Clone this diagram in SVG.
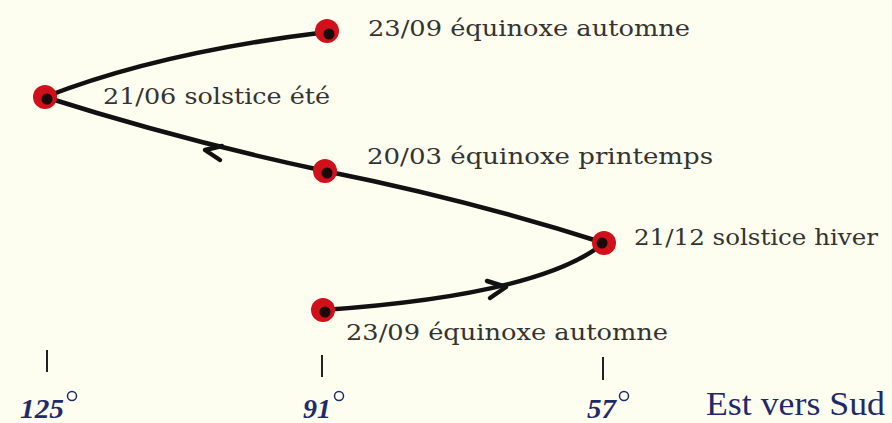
<svg xmlns="http://www.w3.org/2000/svg" width="892" height="423" viewBox="0 0 892 423">
<style>
.lbl{font-family:"DejaVu Serif",Georgia,serif;font-size:23px;fill:#333}
.deg{font-family:"Liberation Serif",serif;font-size:28px;font-style:italic;font-weight:bold;fill:#1f2a6b}
.sup{fill:none;stroke:#1f2a6b;stroke-width:1.5}
.path{fill:none;stroke:#111;stroke-width:4.5;stroke-linecap:round;stroke-linejoin:round}
.tick{stroke:#222;stroke-width:2}
.dot{fill:#d0101a}
.core{fill:#1a0a0a}
</style>
<rect width="892" height="423" fill="#fefef0"/>
<g id="connectors">
<path class="path" d="M323,310 Q540,295 604,243"/>
<path class="path" d="M604,243 Q470,200 325,171"/>
<path class="path" d="M325,171 Q180,140 45,97"/>
<path class="path" d="M45,97 Q160,52 327,32"/>
<polyline class="path" stroke-width="3.5" points="487,281 506,287 490,298"/>
<polyline class="path" stroke-width="3.5" points="222,146 205,150 220,160"/>
</g>
<g id="n1"><circle class="dot" cx="327" cy="31" r="12"/><circle class="core" cx="329" cy="34" r="5.5"/>
<text class="lbl" x="368" y="36" textLength="322" lengthAdjust="spacingAndGlyphs">23/09 équinoxe automne</text></g>
<g id="n2"><circle class="dot" cx="45" cy="97" r="12"/><circle class="core" cx="47" cy="99" r="5.5"/>
<text class="lbl" x="103" y="104" textLength="227" lengthAdjust="spacingAndGlyphs">21/06 solstice été</text></g>
<g id="n3"><circle class="dot" cx="325" cy="171" r="12"/><circle class="core" cx="327" cy="173" r="5.5"/>
<text class="lbl" x="367" y="164" textLength="346" lengthAdjust="spacingAndGlyphs">20/03 équinoxe printemps</text></g>
<g id="n4"><circle class="dot" cx="604" cy="243" r="12"/><circle class="core" cx="602" cy="243" r="5.5"/>
<text class="lbl" x="634" y="245" textLength="244" lengthAdjust="spacingAndGlyphs">21/12 solstice hiver</text></g>
<g id="n5"><circle class="dot" cx="323" cy="310" r="12"/><circle class="core" cx="325" cy="312" r="5.5"/>
<text class="lbl" x="346" y="340" textLength="322" lengthAdjust="spacingAndGlyphs">23/09 équinoxe automne</text></g>
<g id="axis">
<line class="tick" x1="47" y1="350" x2="47" y2="372"/>
<line class="tick" x1="322" y1="355" x2="322" y2="377"/>
<line class="tick" x1="603" y1="357" x2="603" y2="380"/>
<text class="deg" x="20" y="418" textLength="44" lengthAdjust="spacingAndGlyphs">125</text><circle class="sup" cx="72" cy="396" r="4.5"/>
<text class="deg" x="303" y="418" textLength="28" lengthAdjust="spacingAndGlyphs">91</text><circle class="sup" cx="339" cy="396" r="4.5"/>
<text class="deg" x="587" y="418" textLength="29" lengthAdjust="spacingAndGlyphs">57</text><circle class="sup" cx="624" cy="396" r="4.5"/>
<text x="706" y="415" font-family="'Liberation Serif',serif" font-size="33" fill="#1f2a6b" textLength="179" lengthAdjust="spacingAndGlyphs">Est vers Sud</text>
</g>
</svg>
